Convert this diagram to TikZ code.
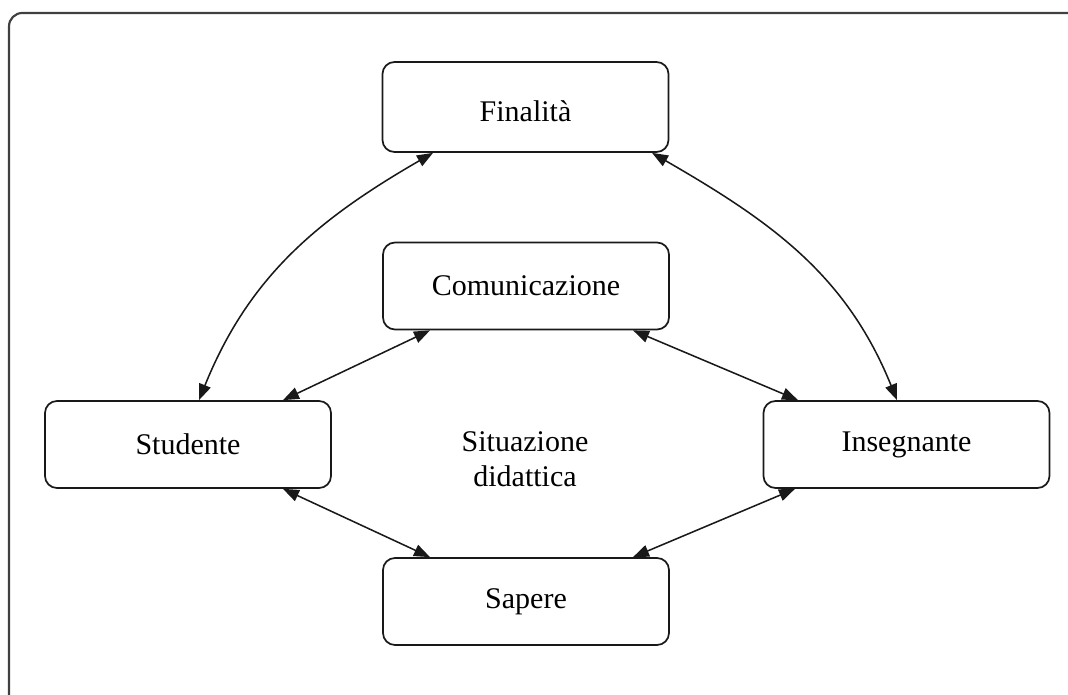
\documentclass[tikz,border=0pt]{standalone}
\usepackage{fontspec}
\setmainfont{Liberation Serif}
\usetikzlibrary{arrows.meta,calc}
\begin{document}
\begin{tikzpicture}[x=0.75pt,y=0.75pt,
  frameline/.style={draw=black!75, line width=1.6pt, rounded corners=10pt},
  box/.style={draw=black!90, line width=1.3pt, rounded corners=9pt,
    minimum width=214.5pt, minimum height=65.25pt, inner sep=0pt,
    font=\fontsize{22.5}{26.25}\selectfont},
  midtext/.style={align=center, inner sep=0pt, font=\fontsize{22.5}{26.25}\selectfont},
  link/.style={draw=black!90, line width=1.15pt,
    {Triangle[length=12pt,width=9pt]}-{Triangle[length=12pt,width=9pt]}}
]
\useasboundingbox (0,0) rectangle (1068,695);

% outer frame, open to the right and bottom
\draw[frameline] (9,-20) -- (9,682) -- (1090,682);

% boxes
\node[box, minimum height=67.5pt, text height=22pt, text depth=0pt] (fin) at (525.5,588) {Finalità};
\node[box] (com) at (526,409) {Comunicazione};
\node[box] (stu) at (188,250.5) {Studente};
\node[box] (ins) at (906.5,250.5) {Insegnante};
\node[box] (sap) at (526,93.5) {Sapere};
\node[midtext] (sit) at (525,235.5) {Situazione\\didattica};

% curved links to the goal
\draw[link] ($(stu.north)+(11,0)$) to[out=68,in=210] ($(fin.south)+(-92.5,0)$);
\draw[link] ($(fin.south)+(126.5,0)$) to[out=-30,in=112] ($(ins.north)+(-9.5,0)$);

% straight links around the teaching situation
\draw[link] ($(com.south)+(-96,0)$) -- ($(stu.north)+(95,0)$);
\draw[link] ($(com.south)+(107,0)$) -- ($(ins.north)+(-108.5,0)$);
\draw[link] ($(stu.south)+(95,0)$) -- ($(sap.north)+(-96,0)$);
\draw[link] ($(ins.south)+(-111.5,0)$) -- ($(sap.north)+(107,0)$);
\end{tikzpicture}
\end{document}
